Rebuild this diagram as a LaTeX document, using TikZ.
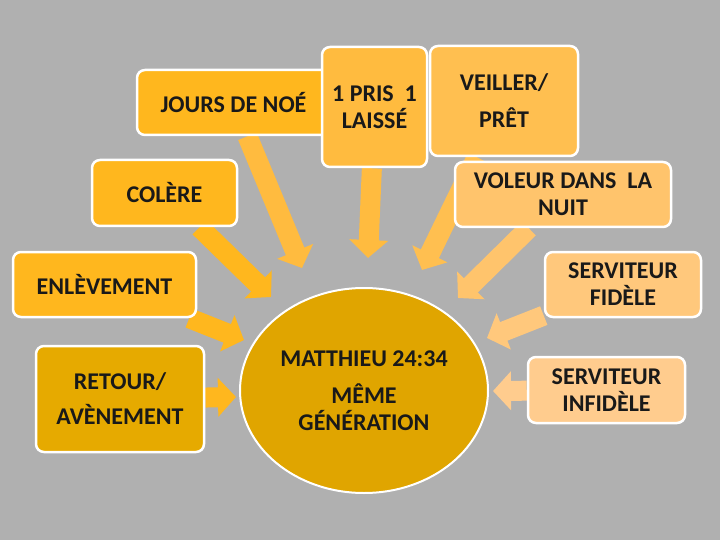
\documentclass[tikz,border=0pt]{standalone}
\usepackage{fontspec}
\setmainfont{Carlito}
\usetikzlibrary{arrows.meta,backgrounds,shapes.geometric}
\definecolor{bggray}{HTML}{B0B0B0}
\definecolor{ambA}{HTML}{FFB71E}
\definecolor{ambB}{HTML}{FFBB3F}
\definecolor{ambC}{HTML}{FFBF50}
\definecolor{ambD}{HTML}{FFC46C}
\definecolor{ambE}{HTML}{FFC87C}
\definecolor{ambF}{HTML}{FFCC8E}
\definecolor{goldR}{HTML}{E6AA00}
\definecolor{goldM}{HTML}{E0A500}
\tikzset{
  box/.style={draw=white, line width=2.5pt, rounded corners=8pt, inner sep=0pt,
    align=center, text=black!90, font=\bfseries\fontsize{24}{27}\selectfont},
  blockarrow/.style={line width=20pt, -{Triangle[length=18pt,width=38pt]}}
}
\begin{document}
\begin{tikzpicture}[x=1pt,y=-1pt]
			\useasboundingbox (0,0) rectangle (720,540);
			\begin{scope}[on background layer]
			\fill[bggray] (0,0) rectangle (720,540);
			\end{scope}
			% boxes
			\node[box, fill=ambA, minimum width=193pt, minimum height=65pt] (jours) at (233.5,102.5) {JOURS DE NOÉ};
			\node[box, fill=ambB, minimum width=105pt, minimum height=120pt] (pris) at (374.5,107) {1 PRIS\ \ 1\\LAISSÉ};
			\node[box, fill=ambC, minimum width=148pt, minimum height=110pt] (veiller) at (504,101) {VEILLER/\\[10pt]PRÊT};
			\node[box, fill=ambA, minimum width=145pt, minimum height=66pt] (colere) at (164.5,193) {COLÈRE};
			\node[box, fill=ambD, minimum width=216pt, minimum height=65pt] (voleur) at (563,194.5) {VOLEUR DANS\ \ LA\\NUIT};
			\node[box, fill=ambA, minimum width=183pt, minimum height=65pt] (enlev) at (104.5,284.5) {ENLÈVEMENT};
			\node[box, fill=ambE, minimum width=156pt, minimum height=65pt] (servf) at (623,284.5) {SERVITEUR\\FIDÈLE};
			\node[box, fill=goldR, minimum width=168pt, minimum height=106pt] (retour) at (120,399) {RETOUR/\\[8pt]AVÈNEMENT};
			\node[box, fill=ambF, minimum width=157pt, minimum height=66pt] (servi) at (606.5,390) {SERVITEUR\\INFIDÈLE};
			\node[box, ellipse, line width=2pt, fill=goldM, minimum width=248pt, minimum height=205pt] (matt) at (364,390.5) {MATTHIEU 24:34\\[10pt]MÊME\\GÉNÉRATION};
			% arrow tips
			\coordinate (tJ) at (302,268);
			\coordinate (tC) at (271,297);
			\coordinate (tE) at (244,340);
			\coordinate (tR) at (236,397);
			\coordinate (tP) at (368,258);
			\coordinate (tV) at (422,270);
			\coordinate (tL) at (458,298);
			\coordinate (tF) at (487,338);
			\coordinate (tI) at (493,391);
			\begin{scope}[on background layer]
			\foreach \from/\to/\col in {jours/tJ/ambB, colere/tC/ambA, enlev/tE/ambA, retour/tR/ambA,
				pris/tP/ambB, veiller/tV/ambC, voleur/tL/ambD, servf/tF/ambE, servi/tI/ambF}
			\draw[blockarrow, \col] (\from) -- (\to);
			\end{scope}
		\end{tikzpicture}
\end{document}
